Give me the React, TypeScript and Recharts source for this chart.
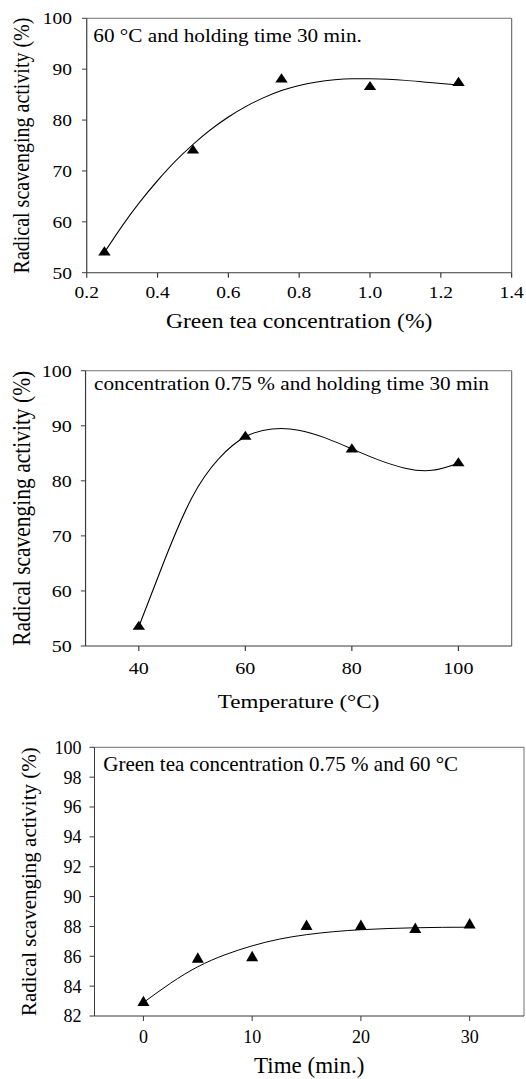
import React from "react";
import { ComposedChart, Line, Scatter, XAxis, YAxis, ReferenceLine } from "recharts";

const FONT = '"Liberation Serif", "Times New Roman", serif';
const INK = "#000";
const AXIS = "#3a3a3a";
const FRAME = "#707070";

// Effect of green tea concentration (60 °C, 30 min)
const concLevels = [0.25, 0.5, 0.75, 1.0, 1.25];
const concActivity = [54.0, 74.0, 88.0, 86.5, 87.3];
const concFitX = [0.25, 0.3, 0.35, 0.4, 0.45, 0.5, 0.55, 0.6, 0.65, 0.7, 0.75, 0.8, 0.85, 0.9, 0.95, 1.0, 1.05, 1.1, 1.15, 1.2, 1.25];
const concFitY = [54.0, 59.2, 63.9, 68.1, 71.9, 75.2, 78.1, 80.6, 82.7, 84.4, 85.8, 86.8, 87.5, 87.9, 88.1, 88.1, 88.0, 87.8, 87.5, 87.2, 86.9];
const concTicks = [0.2, 0.4, 0.6, 0.8, 1.0, 1.2, 1.4];
const activityTicksWide = [50, 60, 70, 80, 90, 100];

// Effect of temperature (0.75 %, 30 min)
const tempLevels = [40, 60, 80, 100];
const tempActivity = [53.5, 88.0, 85.7, 83.2];
const tempFitX = [40, 45, 50, 55, 60, 65, 70, 75, 80, 85, 90, 95, 100];
const tempFitY = [53.5, 66.0, 77.0, 84.0, 88.0, 89.4, 89.2, 87.8, 85.8, 83.8, 82.3, 81.9, 83.2];
const tempTicks = [40, 60, 80, 100];

// Effect of holding time (0.75 %, 60 °C)
const timeLevels = [0, 5, 10, 15, 20, 25, 30];
const timeActivity = [82.9, 85.8, 85.9, 88.0, 88.0, 87.8, 88.1];
const timeFitX = [0, 2.5, 5, 7.5, 10, 12.5, 15, 17.5, 20, 22.5, 25, 27.5, 30];
const timeFitY = [82.9, 84.2, 85.3, 86.1, 86.7, 87.15, 87.45, 87.65, 87.78, 87.86, 87.91, 87.94, 87.95];
const timeTicks = [0, 10, 20, 30];
const activityTicksNarrow = [82, 84, 86, 88, 90, 92, 94, 96, 98, 100];

const Y_TITLE = "Radical scavenging activity (%)";

const makeTriangle = (side: number) => (props: any) => {
  const { cx, cy } = props;
  if (cx == null || cy == null) return <g />;
  const h = (side * Math.sqrt(3)) / 2;
  return (
    <polygon
      points={`${cx},${cy - (2 * h) / 3} ${cx - side / 2},${cy + h / 3} ${cx + side / 2},${cy + h / 3}`}
      fill={INK}
    />
  );
};

type PanelProps = {
  top: number;
  sx: number;
  width: number;
  height: number;
  mTop: number;
  mRight: number;
  mBottom: number;
  yAxisWidth: number;
  xAxisHeight: number;
  xs: number[];
  ys: number[];
  fitX: number[];
  fitY: number[];
  xDomain: [number, number];
  xTicks: number[];
  xFormat: (v: number) => string;
  yDomain: [number, number];
  yTicks: number[];
  tickFont: number;
  xTickMargin: number;
  yTickSize: number;
  yTickMargin: number;
  marker: number;
  note: string;
  noteFont: number;
  noteDx: number;
  noteDy: number;
  xTitle: string;
  xTitleFont: number;
  xTitleDy: number;
  yTitleFont: number;
  yTitleX: number;
};

function Panel(p: PanelProps) {
  const points = p.xs.map((x, i) => ({ x, y: p.ys[i] }));
  const fit = p.fitX.map((x, i) => ({ x, y: p.fitY[i] }));
  const tickStyle = { fill: INK, fontSize: p.tickFont, fontFamily: FONT, style: { fontFamily: FONT } };

  return (
    <div
      style={{
        position: "absolute",
        left: 0,
        top: p.top,
        transform: `scaleX(${p.sx})`,
        transformOrigin: "0 0",
        fontFamily: FONT,
      }}
    >
      <ComposedChart
        width={p.width}
        height={p.height}
        margin={{ top: p.mTop, right: p.mRight, bottom: p.mBottom, left: 0 }}
        style={{ fontFamily: FONT }}
      >
        <XAxis
          type="number"
          dataKey="x"
          domain={p.xDomain}
          ticks={p.xTicks}
          interval={0}
          allowDataOverflow
          tickFormatter={p.xFormat}
          height={p.xAxisHeight}
          tickSize={5}
          tickMargin={p.xTickMargin}
          stroke={AXIS}
          tick={tickStyle}
          label={{
            content: (lp: any) => {
              const vb = lp.viewBox || {};
              return (
                <text
                  x={vb.x + vb.width / 2}
                  y={vb.y + p.xTitleDy}
                  textAnchor="middle"
                  fontSize={p.xTitleFont}
                  fontFamily={FONT}
                  fill={INK}
                >
                  {p.xTitle}
                </text>
              );
            },
          }}
        />
        <YAxis
          type="number"
          dataKey="y"
          domain={p.yDomain}
          ticks={p.yTicks}
          interval={0}
          allowDataOverflow
          width={p.yAxisWidth}
          tickSize={p.yTickSize}
          tickMargin={p.yTickMargin}
          stroke={AXIS}
          tick={tickStyle}
          label={{
            content: (lp: any) => {
              const vb = lp.viewBox || {};
              const cx = vb.x + p.yTitleX + p.yTitleFont * 0.33;
              const cy = vb.y + vb.height / 2;
              return (
                <text
                  x={cx}
                  y={cy}
                  transform={`rotate(-90, ${cx}, ${cy})`}
                  textAnchor="middle"
                  fontSize={p.yTitleFont}
                  fontFamily={FONT}
                  fill={INK}
                >
                  {Y_TITLE}
                </text>
              );
            },
          }}
        />
        <ReferenceLine
          y={p.yDomain[1]}
          stroke={FRAME}
          strokeWidth={1}
          label={{
            content: (lp: any) => {
              const vb = lp.viewBox || {};
              const x0 = vb.x ?? vb.x1;
              const y0 = vb.y ?? vb.y1;
              return (
                <text
                  x={x0 + p.noteDx}
                  y={y0 + p.noteDy}
                  fontSize={p.noteFont}
                  fontFamily={FONT}
                  fill={INK}
                >
                  {p.note}
                </text>
              );
            },
          }}
        />
        <ReferenceLine x={p.xDomain[1]} stroke={FRAME} strokeWidth={1} />
        <Line
          data={fit}
          dataKey="y"
          type="natural"
          dot={false}
          activeDot={false}
          stroke={INK}
          strokeWidth={1}
          isAnimationActive={false}
        />
        <Scatter data={points} dataKey="y" shape={makeTriangle(p.marker)} isAnimationActive={false} />
      </ComposedChart>
    </div>
  );
}

export default function App() {
  const s12 = 1.18;
  return (
    <div
      style={{
        position: "absolute",
        left: 0,
        top: 0,
        width: 526,
        height: 1079,
        background: "#fff",
        overflow: "hidden",
        fontFamily: FONT,
      }}
    >
      <Panel
        top={0}
        sx={s12}
        width={446}
        height={340}
        mTop={18.3}
        mRight={12.4}
        mBottom={7.3}
        yAxisWidth={73.5}
        xAxisHeight={60}
        xs={concLevels}
        ys={concActivity}
        fitX={concFitX}
        fitY={concFitY}
        xDomain={[0.2, 1.4]}
        xTicks={concTicks}
        xFormat={(v) => v.toFixed(1)}
        yDomain={[50, 100]}
        yTicks={activityTicksWide}
        tickFont={16.5}
        xTickMargin={9}
        yTickSize={4}
        yTickMargin={8.5}
        marker={10.5}
        note="60 °C and holding time 30 min."
        noteFont={18}
        noteDx={5.6}
        noteDy={23.8}
        xTitle="Green tea concentration (%)"
        xTitleFont={20}
        xTitleDy={55.6}
        yTitleFont={20}
        yTitleX={18.4}
      />
      <Panel
        top={340}
        sx={s12}
        width={446}
        height={380}
        mTop={30.7}
        mRight={12.4}
        mBottom={4}
        yAxisWidth={72.5}
        xAxisHeight={70}
        xs={tempLevels}
        ys={tempActivity}
        fitX={tempFitX}
        fitY={tempFitY}
        xDomain={[30, 110]}
        xTicks={tempTicks}
        xFormat={(v) => String(v)}
        yDomain={[50, 100]}
        yTicks={activityTicksWide}
        tickFont={17}
        xTickMargin={11}
        yTickSize={4}
        yTickMargin={7.7}
        marker={10.5}
        note="concentration 0.75 % and holding time 30 min"
        noteFont={18}
        noteDx={7.2}
        noteDy={19.5}
        xTitle="Temperature (°C)"
        xTitleFont={19.5}
        xTitleDy={62}
        yTitleFont={21.5}
        yTitleX={18.4}
      />
      <Panel
        top={720}
        sx={1}
        width={526}
        height={359}
        mTop={27.3}
        mRight={2}
        mBottom={3}
        yAxisWidth={94.5}
        xAxisHeight={60}
        xs={timeLevels}
        ys={timeActivity}
        fitX={timeFitX}
        fitY={timeFitY}
        xDomain={[-4.5, 35]}
        xTicks={timeTicks}
        xFormat={(v) => String(v)}
        yDomain={[82, 100]}
        yTicks={activityTicksNarrow}
        tickFont={18}
        xTickMargin={9.5}
        yTickSize={5}
        yTickMargin={8}
        marker={12}
        note="Green tea concentration 0.75 % and 60 °C"
        noteFont={21}
        noteDx={8.8}
        noteDy={23.4}
        xTitle="Time (min.)"
        xTitleFont={23}
        xTitleDy={57}
        yTitleFont={21}
        yTitleX={29.5}
      />
    </div>
  );
}
